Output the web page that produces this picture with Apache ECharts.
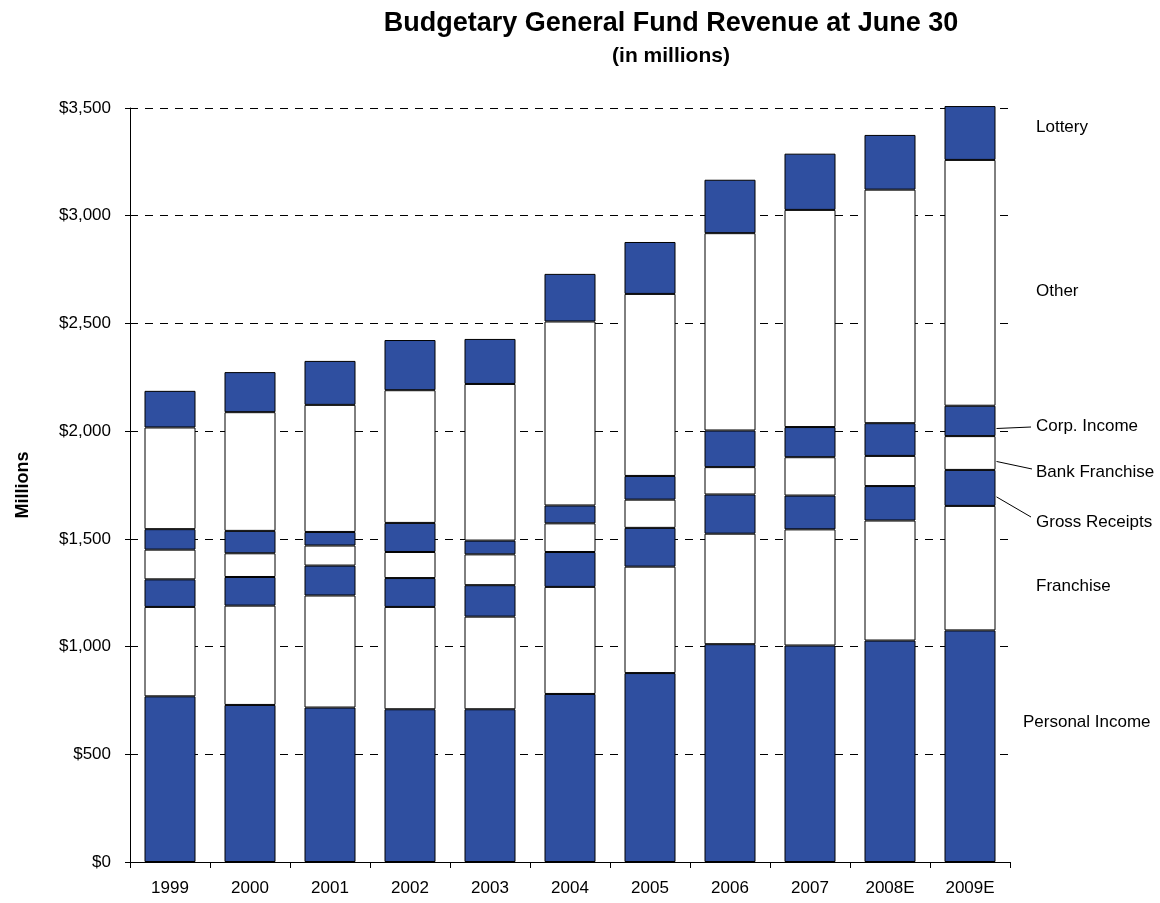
<!DOCTYPE html>
<html>
<head>
<meta charset="utf-8">
<title>Budgetary General Fund Revenue at June 30</title>
<script src="https://cdn.jsdelivr.net/npm/echarts@6/dist/echarts.min.js"></script>
<style>
  html, body { margin: 0; padding: 0; background: #fff; }
  #chart { width: 1160px; height: 903px; }
</style>
</head>
<body>
<div id="chart"></div>
<script>
// Fiscal years (E = estimate)
const categories = ['1999', '2000', '2001', '2002', '2003', '2004', '2005', '2006', '2007', '2008E', '2009E'];

// Revenue by source, $ millions (stacked bottom to top)
const personalIncome = [769, 729, 717, 709, 709, 780, 877, 1011, 1005, 1028, 1075];
const franchise      = [415, 461, 520, 475, 430, 497, 494, 513, 539, 557, 578];
const grossReceipts  = [128, 133, 139, 134, 146, 162, 180, 182, 157, 160, 167];
const bankFranchise  = [138, 110, 93, 121, 143, 133, 131, 127, 178, 140, 157];
const corpIncome     = [95, 104, 63, 135, 64, 83, 110, 170, 140, 152, 141];
const other          = [472, 551, 590, 616, 727, 854, 845, 916, 1008, 1084, 1141];
const lottery        = [170, 186, 204, 233, 209, 221, 241, 248, 261, 254, 250];

// Y axis ticks
const yTicks = [0, 500, 1000, 1500, 2000, 2500, 3000, 3500];

const seriesDefs = [
  { name: 'Personal Income', data: personalIncome, filled: true },
  { name: 'Franchise',       data: franchise,      filled: false },
  { name: 'Gross Receipts',  data: grossReceipts,  filled: true },
  { name: 'Bank Franchise',  data: bankFranchise,  filled: false },
  { name: 'Corp. Income',    data: corpIncome,     filled: true },
  { name: 'Other',           data: other,          filled: false },
  { name: 'Lottery',         data: lottery,        filled: true }
];

const BLUE = '#2F4FA0';
const FONT = '"Liberation Sans", Arial, Helvetica, sans-serif';
const BAR_W = 51;

const chart = echarts.init(document.getElementById('chart'), null, { renderer: 'canvas' });

const option = {
  backgroundColor: '#ffffff',
  animation: false,
  title: {
    text: 'Budgetary General Fund Revenue at June 30',
    subtext: '(in millions)',
    left: 666,
    top: 5,
    textAlign: 'center',
    itemGap: 9,
    textStyle: { fontFamily: FONT, fontSize: 27, fontWeight: 'bold', color: '#000' },
    subtextStyle: { fontFamily: FONT, fontSize: 21, fontWeight: 'bold', color: '#000' }
  },
  grid: { left: 130, right: 150, top: 108, bottom: 41, containLabel: false },
  xAxis: {
    type: 'category',
    data: categories,
    boundaryGap: true,
    axisLine: { show: true, lineStyle: { color: '#000', width: 1 } },
    axisTick: { show: true, alignWithLabel: false, length: 6, lineStyle: { color: '#000' } },
    axisLabel: { fontFamily: FONT, fontSize: 17, color: '#000', margin: 18 },
    splitLine: { show: false }
  },
  yAxis: {
    type: 'value',
    min: yTicks[0],
    max: yTicks[yTicks.length - 1],
    interval: yTicks[1] - yTicks[0],
    name: 'Millions',
    nameLocation: 'middle',
    nameRotate: 90,
    nameGap: 98,
    nameTextStyle: { fontFamily: FONT, fontSize: 18, fontWeight: 'bold', color: '#000' },
    axisLine: { show: true, lineStyle: { color: '#000', width: 1 } },
    axisTick: { show: true, inside: false, length: 5, lineStyle: { color: '#000' } },
    axisLabel: {
      fontFamily: FONT, fontSize: 17, color: '#000', margin: 19,
      formatter: v => '$' + v.toLocaleString('en-US')
    },
    splitLine: {
      show: true,
      lineStyle: { color: '#000', width: 1, type: [8, 7] }
    }
  },
  series: seriesDefs.map(s => ({
    name: s.name,
    type: 'bar',
    stack: 'revenue',
    barWidth: BAR_W,
    clip: false,
    data: s.data,
    itemStyle: {
      color: s.filled ? BLUE : '#ffffff',
      borderColor: '#000',
      borderWidth: 1
    },
    emphasis: { disabled: true }
  }))
};

chart.setOption(option);

// Side labels naming each revenue source, with leader lines for the thin bands
function buildSideLabels() {
  const last = categories.length - 1;
  const xc = chart.convertToPixel({ gridIndex: 0 }, [last, 0])[0];
  const barRight = xc + BAR_W / 2;
  const textX = 1036;

  // cumulative bottoms of each band in the last column
  const bottoms = [];
  let acc = 0;
  seriesDefs.forEach(s => { bottoms.push(acc); acc += s.data[last]; });
  const py = v => chart.convertToPixel({ gridIndex: 0 }, [last, v])[1];

  const labels = [
    { name: 'Lottery',         y: 127, x: textX },
    { name: 'Other',           y: 291, x: textX },
    { name: 'Corp. Income',    y: 426, x: textX, lineTo: [1031, 427] },
    { name: 'Bank Franchise',  y: 472, x: textX, lineTo: [1032, 469] },
    { name: 'Gross Receipts',  y: 522, x: textX, lineTo: [1031, 517] },
    { name: 'Franchise',       y: 586, x: textX },
    { name: 'Personal Income', y: 722, x: 1023 }
  ];

  const elements = [];
  labels.forEach(l => {
    elements.push({
      type: 'text',
      x: l.x, y: l.y,
      style: {
        text: l.name, fill: '#000', font: '17px ' + FONT,
        textAlign: 'left', textVerticalAlign: 'middle'
      },
      silent: true
    });
    if (l.lineTo) {
      const i = seriesDefs.findIndex(s => s.name === l.name);
      const v = bottoms[i] + seriesDefs[i].data[last] * 0.25;
      elements.push({
        type: 'line',
        shape: { x1: barRight + 1, y1: py(v), x2: l.lineTo[0], y2: l.lineTo[1] },
        style: { stroke: '#000', lineWidth: 1 },
        silent: true
      });
    }
  });
  chart.setOption({ graphic: elements });
}
buildSideLabels();
</script>
</body>
</html>
